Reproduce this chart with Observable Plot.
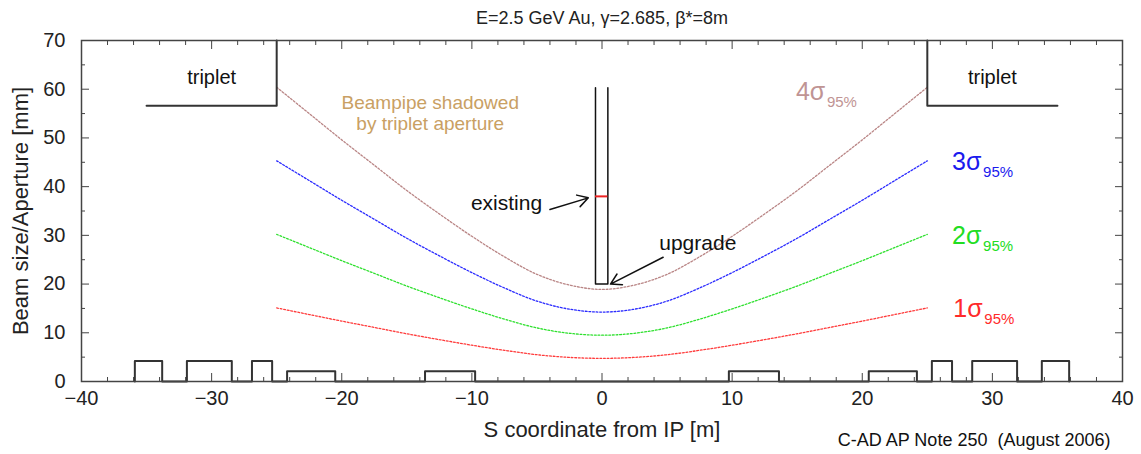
<!DOCTYPE html>
<html>
<head>
<meta charset="utf-8">
<script src="https://cdn.jsdelivr.net/npm/d3@7"></script>
<script src="https://cdn.jsdelivr.net/npm/@observablehq/plot@0.6"></script>
<style>
  body { margin: 0; background: #fff; }
  svg { display: block; }
</style>
</head>
<body>
<div id="chart"></div>
<script>
// ---------- data ----------
const titleText = "E=2.5 GeV Au, γ=2.685, β*=8m";
const xLabel = "S coordinate from IP [m]";
const yLabel = "Beam size/Aperture [mm]";
const caption = "C-AD AP Note 250  (August 2006)";

const xDomain = [-40, 40];
const yDomain = [0, 70];
const xMajorTicks = [-40, -30, -20, -10, 0, 10, 20, 30, 40];
const xMinorTicks = [-38, -36, -34, -32, -28, -26, -24, -22, -18, -16, -14, -12, -8, -6, -4, -2, 2, 4, 6, 8, 12, 14, 16, 18, 22, 24, 26, 28, 32, 34, 36, 38];
const yMajorTicks = [0, 10, 20, 30, 40, 50, 60, 70];
const yMinorTicks = [5, 15, 25, 35, 45, 55, 65];

// S coordinate (m) of the beam-size samples
const sPositions = [-25, -22.5, -20, -17.5, -15, -12.5, -10, -7.5, -5, -2.5, 0, 2.5, 5, 7.5, 10, 12.5, 15, 17.5, 20, 22.5, 25];
// beam size (mm)
const sigma1 = [15.1, 13.75, 12.4, 11.1, 9.8, 8.6, 7.45, 6.4, 5.5, 4.95, 4.75, 4.95, 5.5, 6.4, 7.45, 8.6, 9.8, 11.1, 12.4, 13.75, 15.1];
const sigma2 = [30.2, 27.5, 24.8, 22.2, 19.6, 17.2, 14.9, 12.8, 11.0, 9.9, 9.5, 9.9, 11.0, 12.8, 14.9, 17.2, 19.6, 22.2, 24.8, 27.5, 30.2];
const sigma3 = [45.3, 41.25, 37.2, 33.3, 29.4, 25.8, 22.35, 19.2, 16.5, 14.85, 14.25, 14.85, 16.5, 19.2, 22.35, 25.8, 29.4, 33.3, 37.2, 41.25, 45.3];
const sigma4 = [60.4, 55.0, 49.6, 44.4, 39.2, 34.4, 29.8, 25.6, 22.0, 19.8, 18.9, 19.8, 22.0, 25.6, 29.8, 34.4, 39.2, 44.4, 49.6, 55.0, 60.4];

const sigmaNames = ["1σ", "2σ", "3σ", "4σ"];
const sigmaColors = ["#ff3b3b", "#2ee02e", "#2a2aff", "#b98585"];
const sigmaLabelColors = ["#ff2a2a", "#22dd22", "#1a1aee", "#bf9494"];
const sigmaLabelX = [27.0, 26.9, 26.9, 14.9];
const sigmaLabelY = [14.9, 29.9, 45.0, 59.4];
const sigmaSubscript = "95%";

// triplet aperture outline
const tripletLeftX = [-35, -25, -25];
const tripletLeftY = [56.6, 56.6, 70];
const tripletRightX = [25, 25, 35];
const tripletRightY = [70, 56.6, 56.6];
const tripletLabelX = [-30, 30];
const tripletLabelY = [62.4, 62.4];

// beampipe outline
const pipeX = [-0.5, -0.5, 0.45, 0.45];
const pipeY = [60.3, 20, 20, 60.3];
const existingLevel = 38.0;

// magnets along the beamline
const magnetStart = [-35.9, -31.9, -26.9, -24.2, -13.6, 9.75, 20.5, 25.35, 28.45, 33.8];
const magnetEnd   = [-33.8, -28.45, -25.35, -20.5, -9.75, 13.6, 24.2, 26.9, 31.9, 35.9];
const magnetHeight = [4.2, 4.2, 4.2, 2.1, 2.1, 2.1, 2.1, 4.2, 4.2, 4.2];

// annotations
const noteLines = ["Beampipe shadowed", "by triplet aperture"];
const noteX = [-13.2, -13.2];
const noteY = [57.2, 52.9];
const arrowLabels = ["existing", "upgrade"];
const arrowLabelX = [-4.6, 4.4];
const arrowLabelY = [36.5, 28.3];
const arrowX1 = [-4.0, 4.7];
const arrowY1 = [35.3, 25.5];
const arrowX2 = [-1.05, 0.65];
const arrowY2 = [37.7, 20.0];

// ---------- build tables ----------
const sigmaSeries = [sigma1, sigma2, sigma3, sigma4];
const curveRows = sigmaSeries.map(vals => sPositions.map((s, i) => ({s, v: vals[i]})));
const magnetPath = [];
magnetStart.forEach((a, i) => {
  magnetPath.push({x: a, y: 0}, {x: a, y: magnetHeight[i]}, {x: magnetEnd[i], y: magnetHeight[i]}, {x: magnetEnd[i], y: 0});
});
const toRows = (xs, ys) => xs.map((x, i) => ({x, y: ys[i]}));
const labelRows = sigmaNames.map((n, i) => ({n, x: sigmaLabelX[i], y: sigmaLabelY[i], c: sigmaLabelColors[i]}));
const arrowRows = arrowX1.map((x1, i) => ({x1, y1: arrowY1[i], x2: arrowX2[i], y2: arrowY2[i]}));
const arrowTextRows = arrowLabels.map((t, i) => ({t, x: arrowLabelX[i], y: arrowLabelY[i]}));

const font = "'Liberation Sans', Arial, Helvetica, sans-serif";
const ink = "#222";
const noFmt = () => "";

const chart = Plot.plot({
  width: 1141,
  height: 454,
  marginLeft: 81,
  marginRight: 19,
  marginTop: 40,
  marginBottom: 73,
  x: {domain: xDomain, label: null},
  y: {domain: yDomain, label: null},
  style: {fontFamily: font, background: "#fff", color: ink, overflow: "visible"},
  marks: [
    // beam envelopes
    ...curveRows.map((rows, k) => Plot.line(rows, {
      x: "s", y: "v", stroke: sigmaColors[k], strokeWidth: 1.3,
      strokeDasharray: "1.8,1.8", curve: "catmull-rom"
    })),
    // magnets
    Plot.line(magnetPath, {x: "x", y: "y", stroke: "#333", strokeWidth: 2}),
    // triplets
    Plot.line(toRows(tripletLeftX, tripletLeftY), {x: "x", y: "y", stroke: "#333", strokeWidth: 2}),
    Plot.line(toRows(tripletRightX, tripletRightY), {x: "x", y: "y", stroke: "#333", strokeWidth: 2}),
    Plot.text(tripletLabelX.map((x, i) => ({x, y: tripletLabelY[i]})), {x: "x", y: "y", text: () => "triplet", fontSize: 20, fill: "#111"}),
    // beampipe
    Plot.line(toRows(pipeX, pipeY), {x: "x", y: "y", stroke: "#111", strokeWidth: 1.5}),
    Plot.ruleY([existingLevel], {x1: pipeX[0], x2: pipeX[2], stroke: "#ee2222", strokeWidth: 2}),
    // annotations
    Plot.text(noteLines.map((t, i) => ({t, x: noteX[i], y: noteY[i]})), {x: "x", y: "y", text: "t", fontSize: 19, fill: "#c9a063"}),
    Plot.text(arrowTextRows.slice(0, 1), {x: "x", y: "y", text: "t", fontSize: 21, textAnchor: "end", fill: "#111"}),
    Plot.text(arrowTextRows.slice(1), {x: "x", y: "y", text: "t", fontSize: 21, textAnchor: "start", fill: "#111"}),
    Plot.arrow(arrowRows, {x1: "x1", y1: "y1", x2: "x2", y2: "y2", stroke: "#111", strokeWidth: 1.5, headLength: 12, bend: 0}),
    // sigma labels
    Plot.text(labelRows, {x: "x", y: "y", text: "n", fill: "c", fontSize: 25, textAnchor: "start"}),
    Plot.text(labelRows, {x: "x", y: "y", text: () => sigmaSubscript, fill: "c", fontSize: 15, textAnchor: "start", dx: 31, dy: 10}),
    // frame and axes
    Plot.frame({stroke: "#444", strokeWidth: 1.5}),
    Plot.axisX({ticks: xMajorTicks, anchor: "bottom", tickSize: -8, tickPadding: 17, fontSize: 20, label: null, stroke: "#444"}),
    Plot.axisX({ticks: xMajorTicks, anchor: "top", tickSize: -8, tickFormat: noFmt, label: null, stroke: "#444"}),
    Plot.axisX({ticks: xMinorTicks, anchor: "bottom", tickSize: -4, tickFormat: noFmt, label: null, stroke: "#444"}),
    Plot.axisX({ticks: xMinorTicks, anchor: "top", tickSize: -4, tickFormat: noFmt, label: null, stroke: "#444"}),
    Plot.axisY({ticks: yMajorTicks, anchor: "left", tickSize: -8, tickPadding: 24, fontSize: 20, label: null, stroke: "#444"}),
    Plot.axisY({ticks: yMajorTicks, anchor: "right", tickSize: -8, tickFormat: noFmt, label: null, stroke: "#444"}),
    Plot.axisY({ticks: yMinorTicks, anchor: "left", tickSize: -4, tickFormat: noFmt, label: null, stroke: "#444"}),
    Plot.axisY({ticks: yMinorTicks, anchor: "right", tickSize: -4, tickFormat: noFmt, label: null, stroke: "#444"}),
    // titles
    Plot.text([titleText], {frameAnchor: "top", dy: -22, lineAnchor: "middle", fontSize: 18, fill: "#222"}),
    Plot.text([xLabel], {frameAnchor: "bottom", dy: 48, lineAnchor: "middle", fontSize: 22, fill: "#222"}),
    Plot.text([yLabel], {frameAnchor: "left", dx: -61, rotate: -90, textAnchor: "middle", lineAnchor: "middle", fontSize: 22, fill: "#222"}),
    Plot.text([caption], {frameAnchor: "bottom-right", dx: -12, dy: 59, lineAnchor: "middle", textAnchor: "end", fontSize: 18, fill: "#111"})
  ]
});
document.getElementById("chart").appendChild(chart);
</script>
</body>
</html>
